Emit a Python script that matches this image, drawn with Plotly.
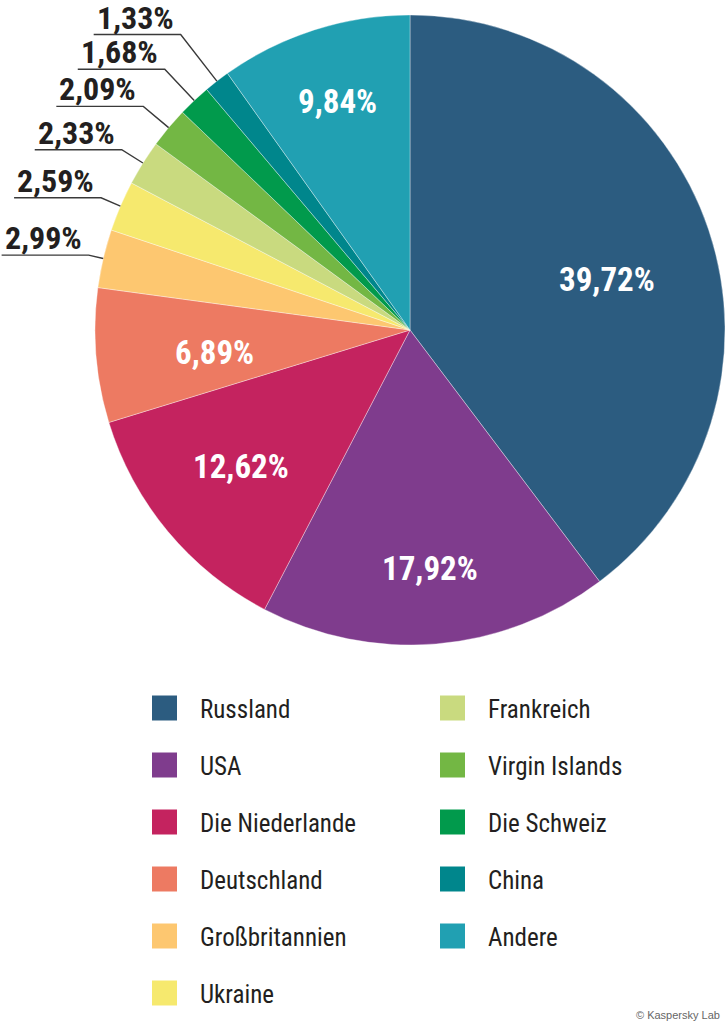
import math
import plotly.graph_objects as go

# ---- data ----
countries = ["Russland", "USA", "Die Niederlande", "Deutschland", "Großbritannien",
             "Ukraine", "Frankreich", "Virgin Islands", "Die Schweiz", "China", "Andere"]
shares = [39.72, 17.92, 12.62, 6.89, 2.99, 2.59, 2.33, 2.09, 1.68, 1.33, 9.84]
colors = ["#2c5c80", "#7f3c8d", "#c4235f", "#ed7a62", "#fdc770", "#f6e96e",
          "#c9da7f", "#73b744", "#019a4c", "#00868c", "#21a0b2"]
outside = [False, False, False, False, True, True, True, True, True, True, False]

# ---- layout constants (pixels) ----
W, H = 726, 1028
CX, CY, R = 410, 330, 315
leader_r = {4: 330, 5: 336, 6: 340, 7: 348, 8: 358, 9: 374}
inside_r = {0: 0.645, 1: 0.76, 2: 0.69, 3: 0.625, 10: 0.76}
inside_da = {0: 4.0, 1: 0.0, 2: 0.8, 3: -1.8, 10: 0.0}
UNDERLINE = 87
FONT_BOLD = "Liberation Sans Narrow, Roboto Condensed, DejaVu Sans Condensed, Arial Narrow, sans-serif"
TXT = "#231f20"


def px(x):
    return x / W


def py(y):
    return 1 - y / H


def fmt(v):
    return f"{v:.2f}".replace(".", ",") + "%"


fig = go.Figure(go.Pie(
    labels=countries,
    values=shares,
    textinfo="none",
    marker=dict(colors=colors, line=dict(color="rgba(255,255,255,0.6)", width=0.6)),
    sort=False,
    direction="clockwise",
    rotation=0,
    showlegend=False,
    hoverinfo="label+percent",
    domain=dict(x=[px(CX - R), px(CX + R)], y=[py(CY + R), py(CY - R)]),
))

shapes = []
annotations = []

total = sum(shares)
cum = 0.0
for i, v in enumerate(shares):
    mid = (cum + v / 2) / total * 2 * math.pi
    cum += v
    if not outside[i]:
        a = mid + math.radians(inside_da[i])
        r = inside_r[i] * R
        annotations.append(dict(x=px(CX + r * math.sin(a)), y=py(CY - r * math.cos(a)),
                                xref="paper", yref="paper", xanchor="center", yanchor="middle",
                                showarrow=False, text=f"<b>{fmt(v)}</b>",
                                font=dict(family=FONT_BOLD, size=33, color="white")))
        continue
    sx, sy = CX + R * math.sin(mid), CY - R * math.cos(mid)
    lr = leader_r[i]
    ex, ey = CX + lr * math.sin(mid), CY - lr * math.cos(mid)
    lx = max(ex - UNDERLINE, 0)
    shapes.append(dict(type="path", xref="paper", yref="paper",
                       path=f"M{px(sx)},{py(sy)} L{px(ex)},{py(ey)} L{px(lx)},{py(ey)}",
                       line=dict(color="#3a3a3a", width=1.4)))
    annotations.append(dict(x=px(lx + 1), y=py(ey + 4), xref="paper", yref="paper",
                            xanchor="left", yanchor="bottom", showarrow=False,
                            text=f"<b>{fmt(v)}</b>",
                            font=dict(family=FONT_BOLD, size=32, color=TXT)))

# legend (two columns, column-major)
col_x = [152, 440]
row_y0, row_dy = 708, 57
per_col = 6
for i, (name, c) in enumerate(zip(countries, colors)):
    col, row = divmod(i, per_col)
    x0 = col_x[col]
    yc = row_y0 + row * row_dy
    shapes.append(dict(type="rect", xref="paper", yref="paper",
                       x0=px(x0), x1=px(x0 + 25), y0=py(yc + 12.5), y1=py(yc - 12.5),
                       fillcolor=c, line=dict(width=0)))
    annotations.append(dict(x=px(x0 + 46), y=py(yc + 1), xref="paper", yref="paper",
                            xanchor="left", yanchor="middle", showarrow=False,
                            text=name,
                            font=dict(family=FONT_BOLD, size=25, color=TXT)))

annotations.append(dict(x=px(722), y=py(1015), xref="paper", yref="paper",
                        xanchor="right", yanchor="middle", showarrow=False,
                        text="© Kaspersky Lab",
                        font=dict(family="Liberation Sans, Arial, sans-serif", size=11, color="#666666")))

fig.update_layout(
    width=W, height=H,
    margin=dict(l=0, r=0, t=0, b=0),
    paper_bgcolor="white",
    plot_bgcolor="white",
    shapes=shapes,
    annotations=annotations,
)

fig.write_html("out.html",
               config={"displayModeBar": False},
               post_script="document.body.style.margin='0';document.body.style.overflow='hidden';")
